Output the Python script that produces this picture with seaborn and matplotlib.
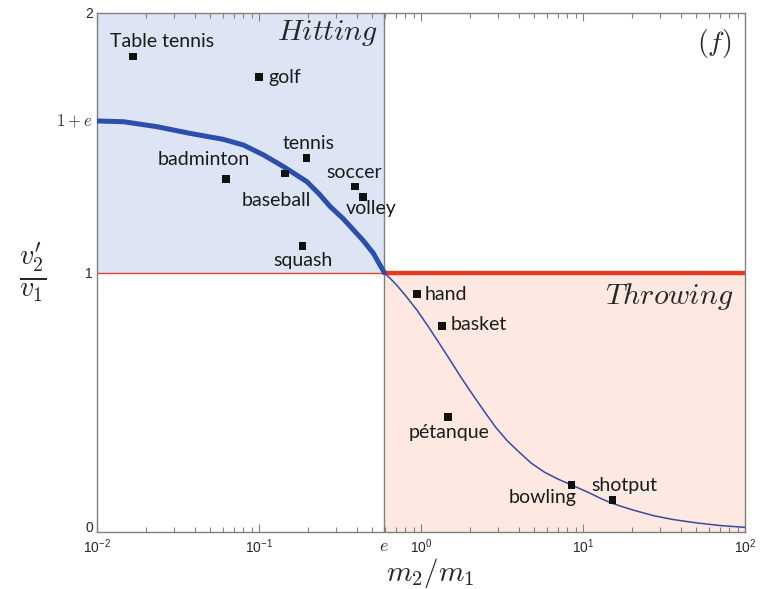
import matplotlib
matplotlib.use("Agg")
import matplotlib.pyplot as plt
import seaborn as sns
import pandas as pd
import numpy as np
from matplotlib.ticker import FixedLocator, LogLocator, NullFormatter

# ---- data ----
e_val = 0.59

sports = ["Table tennis", "golf", "tennis", "badminton", "baseball", "soccer",
          "volley", "squash", "hand", "basket", "pétanque", "bowling", "shotput"]
mass_ratio = [0.01675, 0.0999, 0.196, 0.0628, 0.145, 0.390,
              0.439, 0.1855, 0.942, 1.35, 1.47, 8.51, 15.2]
speed_ratio = [1.832, 1.753, 1.442, 1.361, 1.382, 1.332,
               1.292, 1.102, 0.916, 0.794, 0.444, 0.181, 0.123]

hit_x = [0.01, 0.0146, 0.0234, 0.0376, 0.0603, 0.0803, 0.1066, 0.1416,
         0.1975, 0.235, 0.275, 0.33, 0.383, 0.44, 0.508, 0.593]
hit_y = [1.584, 1.581, 1.562, 1.536, 1.513, 1.491, 1.453, 1.408,
         1.350, 1.303, 1.254, 1.208, 1.164, 1.123, 1.074, 1.0]

throw_x = [0.593, 0.70, 0.80, 0.95, 1.11, 1.3, 1.51, 1.75, 2.06, 2.4, 2.87,
           3.4, 4.0, 4.8, 5.8, 7.0, 8.5, 10.5, 13, 15.2, 20, 27.2, 36, 50.3,
           70, 100]
throw_y = [1.0, 0.955, 0.912, 0.853, 0.791, 0.726, 0.663, 0.600, 0.534, 0.474,
           0.406, 0.352, 0.310, 0.265, 0.230, 0.204, 0.181, 0.156, 0.128, 0.110,
           0.086, 0.063, 0.048, 0.035, 0.025, 0.018]

x_tick_vals = [0.01, 0.1, e_val, 1, 10, 100]
x_tick_labels = [r"$\mathregular{10^{-2}}$", r"$\mathregular{10^{-1}}$", r"$e$",
                 r"$\mathregular{10^{0}}$", r"$\mathregular{10^{1}}$", r"$\mathregular{10^{2}}$"]
y_tick_vals = [0, 1, 1 + e_val, 2]
y_tick_labels = ["0", "1", r"$1+e$", "2"]

# label placement offsets (pixels) relative to each point, and alignment
label_pos = {
    "Table tennis": (29, 15, "center"),
    "golf": (9, 0, "left"),
    "tennis": (2, 14, "center"),
    "badminton": (-23, 19, "center"),
    "baseball": (-9, -27, "center"),
    "soccer": (-1, 14, "center"),
    "volley": (8, -12, "center"),
    "squash": (1, -14, "center"),
    "hand": (8, 0, "left"),
    "basket": (9, 1, "left"),
    "pétanque": (1, -16, "center"),
    "bowling": (-29, -12, "center"),
    "shotput": (12, 15, "center"),
}

sns.set_theme(style="ticks")
plt.rcParams["font.family"] = ["Liberation Sans", "DejaVu Sans"]
plt.rcParams["mathtext.fontset"] = "cm"

fig = plt.figure(figsize=(7.63, 5.89), dpi=100)
ax = fig.add_axes([97 / 763, 1 - 532 / 589, (745 - 97) / 763, (532 - 13) / 589])

ax.set_xscale("log")
ax.set_xlim(0.01, 100)
ax.set_ylim(0, 2)

# shaded regions
ax.axvspan(0.01, e_val, ymin=0.5, ymax=1.0, color="#dde5f5", lw=0, zorder=0)
ax.axvspan(e_val, 100, ymin=0.0, ymax=0.5, color="#fde9e1", lw=0, zorder=0)
ax.axvline(e_val, color="#7f7f7f", lw=1.0, zorder=1)

# red horizontal line
ax.plot([0.01, e_val], [1, 1], color="#e0432f", lw=1.0, zorder=2)
ax.plot([e_val, 100], [1, 1], color="#e8381f", lw=3.2, zorder=2)

# curves
sns.lineplot(x=hit_x, y=hit_y, ax=ax, color="#2b4faa", lw=3.6, sort=False,
             estimator=None, zorder=3)
sns.lineplot(x=throw_x, y=throw_y, ax=ax, color="#3c48a0", lw=1.1, sort=False,
             estimator=None, zorder=3)

df = pd.DataFrame({"sport": sports, "x": mass_ratio, "y": speed_ratio})
sns.scatterplot(data=df, x="x", y="y", ax=ax, marker="s", s=30, color="#111111",
                edgecolor="none", zorder=4, legend=False)

for name, xv, yv in zip(sports, mass_ratio, speed_ratio):
    dx, dy, ha = label_pos[name]
    ax.annotate(name, (xv, yv), xytext=(dx * 0.72, dy * 0.72),
                textcoords="offset points", ha=ha, va="center",
                fontsize=14, family=["Lato", "DejaVu Sans"], color="#1a1a1a",
                zorder=5)

ax.text(0.01 * 10 ** ((328 - 97) / 162.1), 2 - (33 - 13) / 259.5, r"$Hitting$",
        ha="center", va="center", fontsize=21.5)
ax.text(0.01 * 10 ** ((670 - 97) / 162.1), (532 - 297) / 259.5, r"$Throwing$",
        ha="center", va="center", fontsize=21.5)
ax.text(0.01 * 10 ** ((715 - 97) / 162.1), 2 - (43 - 13) / 259.5, r"$(f)$",
        ha="center", va="center", fontsize=20)

# axes styling
ax.xaxis.set_major_locator(FixedLocator(x_tick_vals))
ax.set_xticklabels(x_tick_labels)
ax.xaxis.set_minor_locator(LogLocator(base=10, subs=np.arange(2, 10)))
ax.xaxis.set_minor_formatter(NullFormatter())
ax.set_yticks(y_tick_vals)
ax.set_yticklabels(y_tick_labels)
ax.tick_params(axis="x", which="major", direction="in", length=6, width=0.8,
               color="#808080", top=True, labelsize=10, pad=4)
ax.tick_params(axis="x", which="minor", direction="in", length=3.5, width=0.8,
               color="#808080", top=True)
ax.tick_params(axis="y", which="both", length=0, labelsize=10, pad=3)
for lab in ax.get_xticklabels():
    if lab.get_text() == "$e$":
        lab.set_fontsize(13)
for lab in ax.get_yticklabels():
    if "e" in lab.get_text():
        lab.set_fontsize(12)
        lab.set_color("#333333")
    if lab.get_text() == "0":
        lab.set_va("baseline")
for sp in ax.spines.values():
    sp.set_color("#808080")
    sp.set_linewidth(1.0)
    sp.set_visible(True)

ax.set_xlabel("")
ax.set_ylabel("")
fig.text(430 / 763, 1 - 573 / 589, r"$m_2/m_1$", fontsize=21,
         ha="center", va="center")
fig.text(33 / 763, 1 - 272 / 589, r"$\frac{v_2'}{v_1}$", fontsize=29,
         ha="center", va="center")

fig.savefig("out.png", dpi=100)
